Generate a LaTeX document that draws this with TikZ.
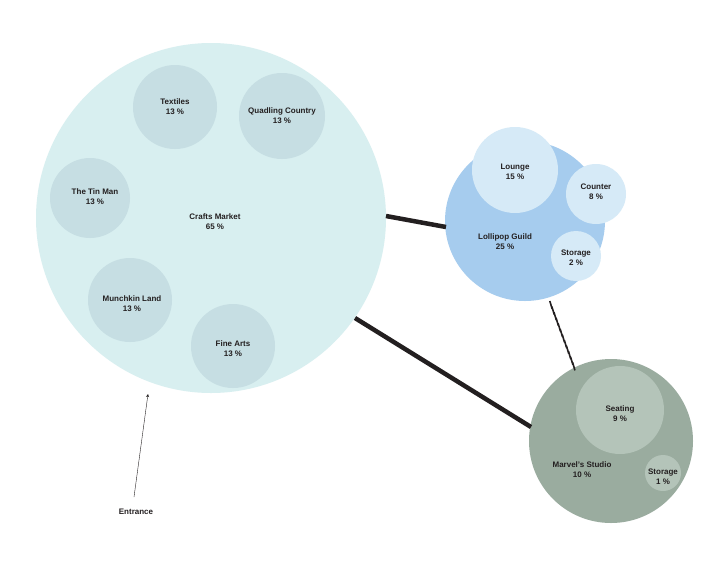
\documentclass[tikz,border=0pt]{standalone}
\usepackage{fontspec}
\setmainfont{Liberation Sans}
\usetikzlibrary{calc}
\definecolor{bigc}{HTML}{D8EFF0}
\definecolor{bigin}{HTML}{C6DEE3}
\definecolor{lolc}{HTML}{A6CCEE}
\definecolor{lolin}{HTML}{D6EAF7}
\definecolor{marc}{HTML}{9AAC9F}
\definecolor{marin}{HTML}{B4C4B9}
\definecolor{ink}{HTML}{231F20}
\tikzset{
 circ/.style={circle,inner sep=0pt,minimum size=#1},
 lab/.style={font=\fontsize{8}{10}\selectfont\bfseries,align=center,text=ink,inner sep=0pt},
 link/.style={line width=4.5pt,draw=ink}
}
\begin{document}
\begin{tikzpicture}[x=1pt,y=-1pt]
\useasboundingbox[fill=white] (0,0) rectangle (728,563);
% big circle
\node[circ=350pt,fill=bigc] (cm) at (211,218) {};
\node[circ=84pt,fill=bigin] (tx) at (175,107) {};
\node[circ=86pt,fill=bigin] (qc) at (282,116) {};
\node[circ=80pt,fill=bigin] (tm) at (90,198) {};
\node[circ=84pt,fill=bigin] (ml) at (130,300) {};
\node[circ=84pt,fill=bigin] (fa) at (233,346) {};
% lollipop
\node[circ=160pt,fill=lolc] (lg) at (525,221) {};
\node[circ=86pt,fill=lolin] (lo) at (515,170) {};
\node[circ=60pt,fill=lolin] (co) at (596,194) {};
\node[circ=50pt,fill=lolin] (st) at (576,256) {};
% marvel
\node[circ=164pt,fill=marc] (ms) at (611,441) {};
\node[circ=88pt,fill=marin] (se) at (620,410) {};
\node[circ=36pt,fill=marin] (st2) at (663,473) {};
% labels
\node[lab] at (175,107) {Textiles\\13 \%};
\node[lab] at (282,116) {Quadling Country\\13 \%};
\node[lab] at (95,197) {The Tin Man\\13 \%};
\node[lab] at (215,222) {Crafts Market\\65 \%};
\node[lab] at (132,304) {Munchkin Land\\13 \%};
\node[lab] at (233,349) {Fine Arts\\13 \%};
\node[lab] at (515,172) {Lounge\\15 \%};
\node[lab] at (596,192) {Counter\\8 \%};
\node[lab] at (505,242) {Lollipop Guild\\25 \%};
\node[lab] at (576,258) {Storage\\2 \%};
\node[lab] at (620,414) {Seating\\9 \%};
\node[lab] at (582,470) {Marvel's Studio\\10 \%};
\node[lab] at (663,477) {Storage\\1 \%};
\node[lab] (en) at (136,512) {Entrance};
% connectors
\draw[link] (cm.east |- 0,216) ++(0,0) coordinate (a1);
\coordinate (a1) at (386,216);
\coordinate (a2) at (446,227);
\draw[link] (a1) -- (a2);
\coordinate (b1) at (355,318);
\coordinate (b2) at (531,427);
\draw[link] (b1) -- (b2);
\coordinate (h1) at (551,305);
\coordinate (h2) at (574,367);
\foreach \t in {0,0.09,...,1.0}{
  \draw[line width=1.6pt,draw=ink] ($(h1)!\t!(h2)+(-1.2,-4)$) -- ($(h1)!\t!(h2)+(1.2,4)$);
}
\coordinate (e1) at (134,497);
\coordinate (e2) at (148,394);
\draw[-stealth,thin,draw=ink] (e1) -- (e2);
\end{tikzpicture}
\end{document}
